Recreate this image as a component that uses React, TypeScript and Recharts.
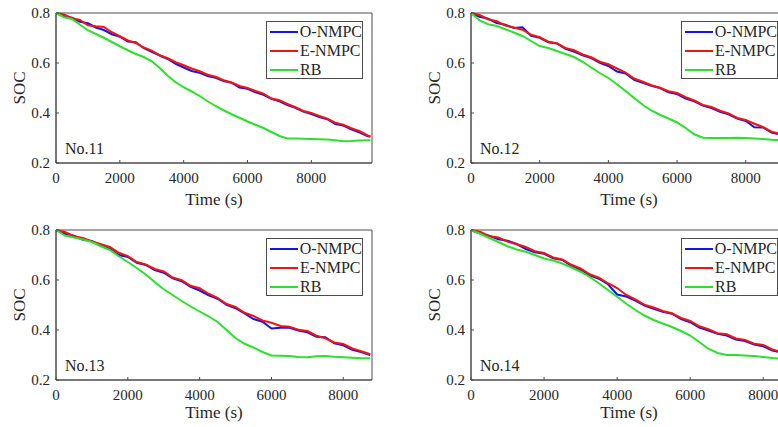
import React from "react";
import { LineChart, Line, XAxis, YAxis, ReferenceArea, Legend } from "recharts";

const BLUE = "#1414e6";
const RED = "#f01414";
const GREEN = "#2ee02e";
const AXIS = "#4d4d4d";
const TEXT = "#262626";
const FONT = "'Liberation Serif', 'Times New Roman', serif";

const seriesOrder = ["O-NMPC", "E-NMPC", "RB"];
const xTicks = [0, 2000, 4000, 6000, 8000];
const yTicks = [0.2, 0.4, 0.6, 0.8];

// No.11
const time11 = [0, 250, 500, 750, 1000, 1250, 1500, 1750, 2000, 2250, 2500, 2750, 3000, 3250, 3500, 3750, 4000, 4250, 4500, 4750, 5000, 5250, 5500, 5750, 6000, 6250, 6500, 6750, 7000, 7250, 7500, 7750, 8000, 8250, 8500, 8750, 9000, 9250, 9500, 9750, 9850];
const onmpc11 = [0.800, 0.787, 0.781, 0.765, 0.759, 0.742, 0.732, 0.715, 0.705, 0.686, 0.683, 0.659, 0.645, 0.630, 0.616, 0.597, 0.582, 0.568, 0.561, 0.548, 0.541, 0.528, 0.521, 0.502, 0.497, 0.483, 0.473, 0.457, 0.447, 0.432, 0.421, 0.406, 0.396, 0.384, 0.375, 0.356, 0.350, 0.335, 0.323, 0.308, 0.306];
const enmpc11 = [0.800, 0.794, 0.779, 0.772, 0.751, 0.747, 0.744, 0.723, 0.707, 0.690, 0.680, 0.662, 0.649, 0.631, 0.619, 0.603, 0.591, 0.578, 0.567, 0.553, 0.545, 0.531, 0.522, 0.508, 0.500, 0.488, 0.477, 0.458, 0.451, 0.436, 0.423, 0.408, 0.400, 0.388, 0.377, 0.361, 0.353, 0.339, 0.328, 0.311, 0.305];
const rb11 = [0.800, 0.783, 0.776, 0.753, 0.731, 0.716, 0.701, 0.684, 0.667, 0.651, 0.636, 0.624, 0.607, 0.580, 0.549, 0.523, 0.503, 0.486, 0.468, 0.447, 0.428, 0.411, 0.395, 0.381, 0.366, 0.353, 0.340, 0.324, 0.308, 0.298, 0.298, 0.297, 0.296, 0.295, 0.294, 0.291, 0.287, 0.288, 0.290, 0.291, 0.291];

// No.12
const time12 = [0, 250, 500, 750, 1000, 1250, 1500, 1750, 2000, 2250, 2500, 2750, 3000, 3250, 3500, 3750, 4000, 4250, 4500, 4750, 5000, 5250, 5500, 5750, 6000, 6250, 6500, 6750, 7000, 7250, 7500, 7750, 8000, 8250, 8500, 8750, 9000, 9150];
const onmpc12 = [0.800, 0.785, 0.777, 0.760, 0.753, 0.740, 0.743, 0.709, 0.701, 0.683, 0.678, 0.657, 0.646, 0.631, 0.620, 0.601, 0.588, 0.566, 0.558, 0.533, 0.521, 0.509, 0.500, 0.483, 0.476, 0.458, 0.447, 0.430, 0.420, 0.405, 0.395, 0.378, 0.368, 0.343, 0.342, 0.322, 0.314, 0.307];
const enmpc12 = [0.800, 0.792, 0.775, 0.767, 0.750, 0.742, 0.733, 0.713, 0.703, 0.685, 0.679, 0.660, 0.651, 0.634, 0.623, 0.605, 0.595, 0.578, 0.562, 0.538, 0.525, 0.511, 0.501, 0.487, 0.480, 0.463, 0.450, 0.432, 0.424, 0.409, 0.398, 0.380, 0.372, 0.357, 0.344, 0.325, 0.317, 0.308];
const rb12 = [0.800, 0.770, 0.755, 0.748, 0.735, 0.722, 0.708, 0.688, 0.668, 0.660, 0.648, 0.636, 0.624, 0.605, 0.582, 0.560, 0.540, 0.515, 0.488, 0.460, 0.433, 0.410, 0.393, 0.378, 0.362, 0.340, 0.315, 0.301, 0.300, 0.300, 0.300, 0.301, 0.300, 0.298, 0.296, 0.293, 0.291, 0.292];

// No.13
const time13 = [0, 250, 500, 750, 1000, 1250, 1500, 1750, 2000, 2250, 2500, 2750, 3000, 3250, 3500, 3750, 4000, 4250, 4500, 4750, 5000, 5250, 5500, 5750, 6000, 6250, 6500, 6750, 7000, 7250, 7500, 7750, 8000, 8250, 8500, 8750];
const onmpc13 = [0.800, 0.785, 0.777, 0.761, 0.756, 0.737, 0.724, 0.700, 0.692, 0.669, 0.660, 0.640, 0.629, 0.607, 0.595, 0.573, 0.558, 0.539, 0.525, 0.501, 0.487, 0.466, 0.444, 0.433, 0.406, 0.409, 0.409, 0.398, 0.391, 0.373, 0.371, 0.347, 0.339, 0.321, 0.312, 0.300];
const enmpc13 = [0.800, 0.792, 0.775, 0.768, 0.754, 0.743, 0.732, 0.709, 0.695, 0.672, 0.662, 0.644, 0.634, 0.610, 0.599, 0.577, 0.567, 0.545, 0.529, 0.504, 0.492, 0.469, 0.456, 0.438, 0.429, 0.416, 0.413, 0.401, 0.396, 0.377, 0.367, 0.350, 0.344, 0.326, 0.315, 0.303];
const rb13 = [0.800, 0.778, 0.770, 0.762, 0.752, 0.735, 0.720, 0.695, 0.672, 0.648, 0.622, 0.592, 0.563, 0.540, 0.516, 0.494, 0.474, 0.455, 0.432, 0.400, 0.368, 0.345, 0.330, 0.312, 0.298, 0.297, 0.296, 0.292, 0.291, 0.295, 0.296, 0.293, 0.291, 0.289, 0.287, 0.287];

// No.14
const time14 = [0, 250, 500, 750, 1000, 1250, 1500, 1750, 2000, 2250, 2500, 2750, 3000, 3250, 3500, 3750, 4000, 4250, 4500, 4750, 5000, 5250, 5500, 5750, 6000, 6250, 6500, 6750, 7000, 7250, 7500, 7750, 8000, 8250, 8500, 8600];
const onmpc14 = [0.800, 0.786, 0.777, 0.763, 0.757, 0.744, 0.724, 0.711, 0.705, 0.687, 0.680, 0.657, 0.641, 0.619, 0.605, 0.583, 0.542, 0.534, 0.518, 0.498, 0.485, 0.473, 0.465, 0.444, 0.431, 0.410, 0.398, 0.385, 0.378, 0.362, 0.356, 0.342, 0.335, 0.318, 0.310, 0.304];
const enmpc14 = [0.800, 0.793, 0.775, 0.770, 0.754, 0.743, 0.732, 0.715, 0.708, 0.690, 0.682, 0.661, 0.646, 0.623, 0.609, 0.587, 0.568, 0.540, 0.522, 0.501, 0.490, 0.476, 0.467, 0.448, 0.436, 0.415, 0.403, 0.387, 0.383, 0.366, 0.360, 0.345, 0.340, 0.322, 0.312, 0.305];
const rb14 = [0.800, 0.785, 0.768, 0.752, 0.735, 0.722, 0.713, 0.700, 0.686, 0.678, 0.666, 0.650, 0.633, 0.612, 0.587, 0.560, 0.533, 0.505, 0.480, 0.458, 0.440, 0.426, 0.412, 0.396, 0.378, 0.352, 0.325, 0.308, 0.300, 0.300, 0.298, 0.296, 0.292, 0.288, 0.285, 0.285];

function LegendBox(props: any) {
  const items = [...(props.payload ?? [])].sort(
    (a: any, b: any) => seriesOrder.indexOf(a.value) - seriesOrder.indexOf(b.value)
  );
  return (
    <div
      style={{
        boxSizing: "border-box",
        width: 97,
        height: 58,
        border: `1px solid ${AXIS}`,
        background: "#fff",
        padding: "0 0 0 3px",
        fontFamily: FONT,
      }}
    >
      {items.map((it: any) => (
        <div key={it.value} style={{ display: "flex", alignItems: "center", height: 19 }}>
          <span style={{ display: "inline-block", width: 28, height: 2, background: it.color, marginRight: 2 }} />
          <span style={{ fontSize: 16, color: TEXT, lineHeight: "19px", whiteSpace: "nowrap" }}>{it.value}</span>
        </div>
      ))}
    </div>
  );
}

interface PanelProps {
  tag: string;
  time: number[];
  onmpc: number[];
  enmpc: number[];
  rb: number[];
  xMax: number;
  left: number;
  top: number;
  marginTop: number;
  xAxisHeight: number;
  labelOffset: number;
}

function SocPanel({ tag, time, onmpc, enmpc, rb, xMax, left, top, marginTop, xAxisHeight, labelOffset }: PanelProps) {
  const rows = time.map((t, i) => ({ t, o: onmpc[i], e: enmpc[i], rb: rb[i] }));
  const height = marginTop + 1 + 150 + xAxisHeight;
  const tickStyle = { fill: TEXT, fontSize: 15, fontFamily: FONT };

  return (
    <div style={{ position: "absolute", left, top }}>
      <LineChart width={380} height={height} data={rows} margin={{ top: marginTop, right: 7, bottom: 0, left: 0 }}>
        <XAxis
          dataKey="t"
          type="number"
          domain={[0, xMax]}
          ticks={xTicks}
          interval={0}
          height={xAxisHeight}
          stroke={AXIS}
          tick={tickStyle}
          tickSize={-3}
          tickMargin={12}
          label={{ value: "Time (s)", position: "insideBottom", offset: labelOffset, fontSize: 17, fill: TEXT, fontFamily: FONT }}
        />
        <XAxis
          xAxisId="top"
          orientation="top"
          type="number"
          domain={[0, xMax]}
          ticks={xTicks}
          interval={0}
          height={1}
          stroke={AXIS}
          axisLine={false}
          tick={false}
          tickSize={-3}
        />
        <YAxis
          type="number"
          domain={[0.2, 0.8]}
          ticks={yTicks}
          interval={0}
          width={56}
          stroke={AXIS}
          tick={tickStyle}
          tickSize={-3}
          tickMargin={9}
          tickFormatter={(v: number) => v.toFixed(1)}
          label={{
            value: "SOC",
            angle: -90,
            position: "insideLeft",
            offset: 19,
            fontSize: 17,
            fill: TEXT,
            fontFamily: FONT,
            style: { textAnchor: "middle" },
          }}
        />
        <YAxis
          yAxisId="right"
          orientation="right"
          type="number"
          domain={[0.2, 0.8]}
          ticks={yTicks}
          interval={0}
          width={1}
          stroke={AXIS}
          axisLine={false}
          tick={false}
          tickSize={-3}
        />
        <ReferenceArea
          x1={0}
          x2={xMax}
          y1={0.2}
          y2={0.8}
          fill="none"
          stroke={AXIS}
          strokeWidth={1}
          label={{ value: tag, position: "insideBottomLeft", offset: 9, fontSize: 16, fill: TEXT, fontFamily: FONT }}
        />
        <Line type="linear" dataKey="o" name="O-NMPC" stroke={BLUE} strokeWidth={2} dot={false} isAnimationActive={false} />
        <Line type="linear" dataKey="e" name="E-NMPC" stroke={RED} strokeWidth={2} dot={false} isAnimationActive={false} />
        <Line type="linear" dataKey="rb" name="RB" stroke={GREEN} strokeWidth={2} dot={false} isAnimationActive={false} />
        <Legend
          content={<LegendBox />}
          layout="vertical"
          align="center"
          verticalAlign="middle"
          wrapperStyle={{ left: 266, top: marginTop + 9, width: 97, height: 58 }}
        />
      </LineChart>
    </div>
  );
}

export default function App() {
  return (
    <div
      style={{
        position: "absolute",
        left: 0,
        top: 0,
        width: 778,
        height: 427,
        overflow: "hidden",
        background: "#fff",
        fontFamily: FONT,
      }}
    >
      <SocPanel tag="No.11" time={time11} onmpc={onmpc11} enmpc={enmpc11} rb={rb11} xMax={9900}
        left={0} top={0} marginTop={12} xAxisHeight={50} labelOffset={8} />
      <SocPanel tag="No.12" time={time12} onmpc={onmpc12} enmpc={enmpc12} rb={rb12} xMax={9200}
        left={415} top={0} marginTop={12} xAxisHeight={50} labelOffset={8} />
      <SocPanel tag="No.13" time={time13} onmpc={onmpc13} enmpc={enmpc13} rb={rb13} xMax={8800}
        left={0} top={213} marginTop={16} xAxisHeight={47} labelOffset={9} />
      <SocPanel tag="No.14" time={time14} onmpc={onmpc14} enmpc={enmpc14} rb={rb14} xMax={8650}
        left={415} top={213} marginTop={16} xAxisHeight={47} labelOffset={9} />
    </div>
  );
}
